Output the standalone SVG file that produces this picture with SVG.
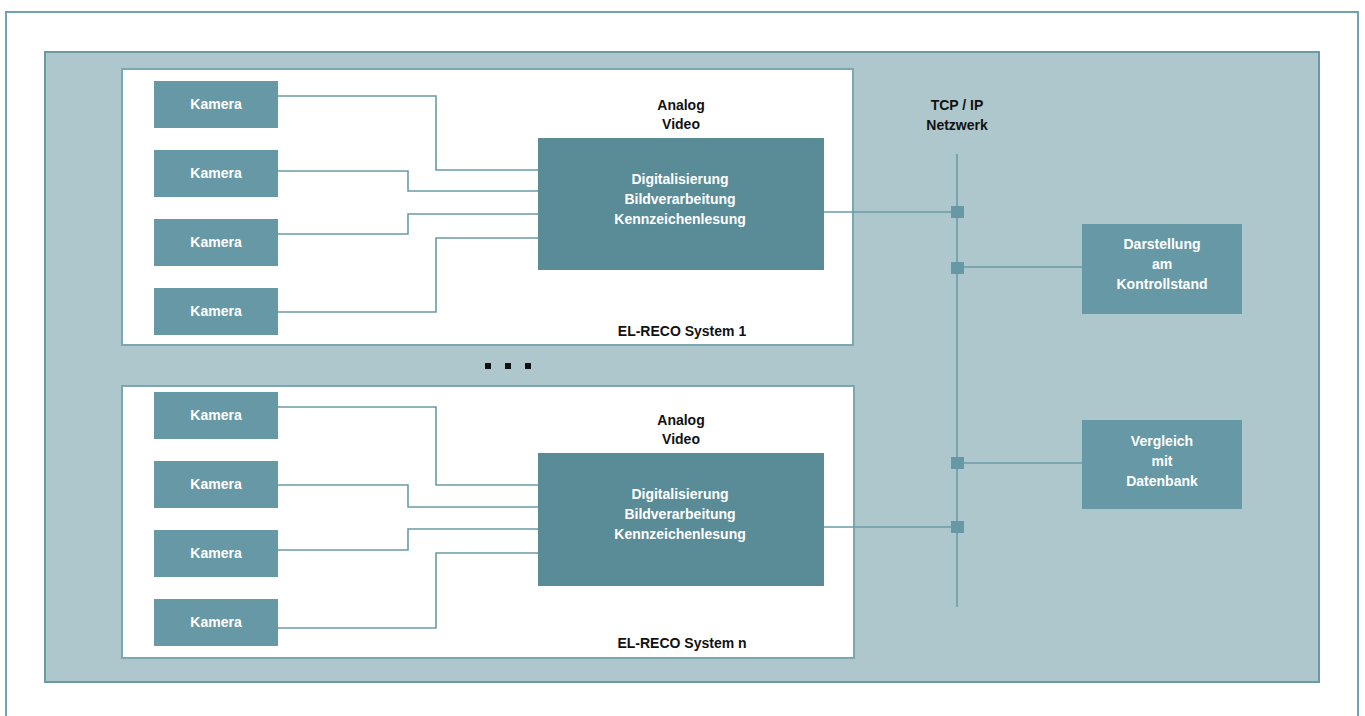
<svg xmlns="http://www.w3.org/2000/svg" width="1365" height="716" viewBox="0 0 1365 716">
<style>
.frame{fill:#ffffff;stroke:#6fa3ad;stroke-width:2}
.panel{fill:#aec7cd;stroke:#6a9ba5;stroke-width:2}
.sys{fill:#ffffff;stroke:#7aa8b2;stroke-width:2}
.cam{fill:#6699a5}
.proc{fill:#5a8c98}
.out{fill:#6699a5}
.wt{font-family:"Liberation Sans",Arial,sans-serif;font-weight:bold;font-size:14px;fill:#ffffff;text-anchor:middle}
.bt{font-family:"Liberation Sans",Arial,sans-serif;font-weight:bold;font-size:14px;fill:#111111;text-anchor:middle}
.ln{fill:none;stroke:#6a9ba5;stroke-width:1.6}
.jn{fill:#6699a5}
</style>
<rect class="frame" x="6" y="12" width="1352" height="720"/>
<rect class="panel" x="45" y="52" width="1274" height="630"/>

<g id="system1">
<rect class="sys" x="122" y="69" width="731" height="276"/>
<text class="bt" x="682" y="336">EL-RECO System 1</text>
<text class="bt" x="681" y="110">Analog</text>
<text class="bt" x="681" y="129">Video</text>
</g>
<g id="systemn">
<rect class="sys" x="122" y="386" width="732" height="272"/>
<text class="bt" x="682" y="648">EL-RECO System n</text>
<text class="bt" x="681" y="425">Analog</text>
<text class="bt" x="681" y="444">Video</text>
</g>

<g id="dots">
<rect x="485" y="363" width="6" height="6" fill="#111"/>
<rect x="505" y="363" width="6" height="6" fill="#111"/>
<rect x="525" y="363" width="6" height="6" fill="#111"/>
</g>

<g id="connectors">
<polyline class="ln" points="278,96 436,96 436,170 538,170"/>
<polyline class="ln" points="278,171 408,171 408,191 538,191"/>
<polyline class="ln" points="278,234 408,234 408,214 538,214"/>
<polyline class="ln" points="278,312 436,312 436,238 538,238"/>
<polyline class="ln" points="278,407 436,407 436,485 538,485"/>
<polyline class="ln" points="278,485 408,485 408,507 538,507"/>
<polyline class="ln" points="278,550 408,550 408,529 538,529"/>
<polyline class="ln" points="278,628 436,628 436,553 538,553"/>
<line class="ln" x1="957" y1="154" x2="957" y2="607"/>
<line class="ln" x1="823" y1="212" x2="957" y2="212"/>
<line class="ln" x1="823" y1="527" x2="957" y2="527"/>
<line class="ln" x1="957" y1="267" x2="1082" y2="267"/>
<line class="ln" x1="957" y1="463" x2="1082" y2="463"/>
<rect class="jn" x="951" y="206" width="13" height="12"/>
<rect class="jn" x="951" y="262" width="13" height="12"/>
<rect class="jn" x="951" y="457" width="13" height="12"/>
<rect class="jn" x="951" y="521" width="13" height="12"/>
</g>

<g id="tcp">
<text class="bt" x="957" y="110">TCP / IP</text>
<text class="bt" x="957" y="130">Netzwerk</text>
</g>

<g id="cam1a"><rect class="cam" x="154" y="81" width="124" height="47"/><text class="wt" x="216" y="109">Kamera</text></g>
<g id="cam1b"><rect class="cam" x="154" y="150" width="124" height="47"/><text class="wt" x="216" y="178">Kamera</text></g>
<g id="cam1c"><rect class="cam" x="154" y="219" width="124" height="47"/><text class="wt" x="216" y="247">Kamera</text></g>
<g id="cam1d"><rect class="cam" x="154" y="288" width="124" height="47"/><text class="wt" x="216" y="316">Kamera</text></g>

<g id="cam2a"><rect class="cam" x="154" y="392" width="124" height="47"/><text class="wt" x="216" y="420">Kamera</text></g>
<g id="cam2b"><rect class="cam" x="154" y="461" width="124" height="47"/><text class="wt" x="216" y="489">Kamera</text></g>
<g id="cam2c"><rect class="cam" x="154" y="530" width="124" height="47"/><text class="wt" x="216" y="558">Kamera</text></g>
<g id="cam2d"><rect class="cam" x="154" y="599" width="124" height="47"/><text class="wt" x="216" y="627">Kamera</text></g>

<g id="proc1"><rect class="proc" x="538" y="138" width="286" height="132"/>
<text class="wt" x="680" y="184">Digitalisierung</text>
<text class="wt" x="680" y="204">Bildverarbeitung</text>
<text class="wt" x="680" y="224">Kennzeichenlesung</text></g>
<g id="proc2"><rect class="proc" x="538" y="453" width="286" height="133"/>
<text class="wt" x="680" y="499">Digitalisierung</text>
<text class="wt" x="680" y="519">Bildverarbeitung</text>
<text class="wt" x="680" y="539">Kennzeichenlesung</text></g>

<g id="darstellung"><rect class="out" x="1082" y="224" width="160" height="90"/>
<text class="wt" x="1162" y="249">Darstellung</text>
<text class="wt" x="1162" y="269">am</text>
<text class="wt" x="1162" y="289">Kontrollstand</text></g>
<g id="vergleich"><rect class="out" x="1082" y="420" width="160" height="89"/>
<text class="wt" x="1162" y="446">Vergleich</text>
<text class="wt" x="1162" y="466">mit</text>
<text class="wt" x="1162" y="486">Datenbank</text></g>
</svg>
